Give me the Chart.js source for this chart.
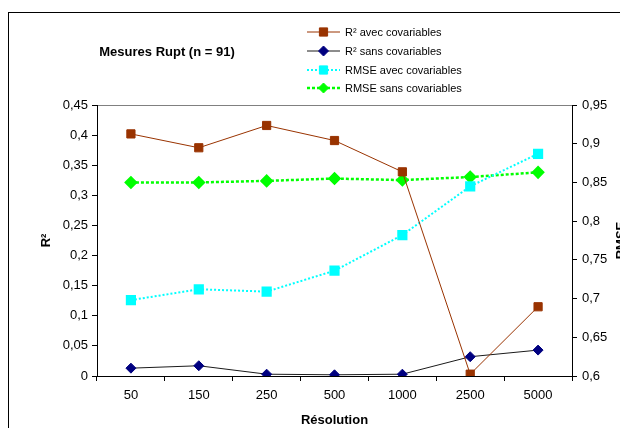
<!DOCTYPE html>
<html>
<head>
<meta charset="utf-8">
<script src="https://cdn.jsdelivr.net/npm/chart.js@4.4.1/dist/chart.umd.min.js"></script>
<style>
  html, body { margin: 0; padding: 0; background: #fff; overflow: hidden; width: 620px; height: 428px; }
  #frame { position: absolute; left: 8px; top: 12px; width: 800px; height: 600px;
           border-left: 1px solid #000; border-top: 1px solid #000; }
  #myChart { position: absolute; left: 0; top: 0; }
</style>
</head>
<body>
<div id="frame"></div>
<canvas id="myChart" width="640" height="440"></canvas>
<script>
// Résolutions (catégories de l'axe X)
var resolutions = ['50', '150', '250', '500', '1000', '2500', '5000'];

// R² (axe gauche)
var r2Avec = [0.402, 0.379, 0.416, 0.391, 0.339, 0.003, 0.115];
var r2Sans = [0.013, 0.017, 0.003, 0.002, 0.003, 0.032, 0.043];

// RMSE (axe droit)
var rmseAvec = [0.698, 0.712, 0.709, 0.736, 0.782, 0.845, 0.887];
var rmseSans = [0.850, 0.850, 0.852, 0.855, 0.853, 0.857, 0.863];

var titre = 'Mesures Rupt (n = 91)';
var FONT = 'Arial, "Liberation Sans", sans-serif';

function virgule(v) {
    return String(+v.toFixed(2)).replace('.', ',');
}

// titre, légende verticale et titre de l'axe droit (tourné comme à gauche)
var decor = {
    id: 'decor',
    afterDraw: function (chart) {
        var ctx = chart.ctx;
        ctx.save();
        ctx.fillStyle = '#000';
        ctx.font = 'bold 13px ' + FONT;
        ctx.textAlign = 'center';
        ctx.textBaseline = 'middle';
        ctx.fillText(titre, 167, 52);

        var rows = [32, 51, 70, 88];
        chart.data.datasets.forEach(function (ds, i) {
            var y = rows[i];
            ctx.save();
            ctx.strokeStyle = ds.borderColor;
            ctx.lineWidth = ds.borderWidth;
            ctx.setLineDash(ds.borderDash || []);
            ctx.beginPath();
            ctx.moveTo(307, y);
            ctx.lineTo(340, y);
            ctx.stroke();
            ctx.restore();
            ctx.fillStyle = ds.pointBackgroundColor;
            ctx.strokeStyle = ds.pointBorderColor;
            ctx.lineWidth = 1;
            Chart.helpers.drawPoint(ctx, {pointStyle: ds.pointStyle, radius: ds.pointRadius, borderWidth: 1, rotation: 0}, 323.5, y);
            ctx.fillStyle = '#000';
            ctx.font = '11px ' + FONT;
            ctx.textAlign = 'left';
            ctx.textBaseline = 'middle';
            ctx.fillText(ds.label, 345, y + 1);
        });

        var a = chart.chartArea;
        ctx.translate(621, (a.top + a.bottom) / 2);
        ctx.rotate(-Math.PI / 2);
        ctx.font = 'bold 13px ' + FONT;
        ctx.textAlign = 'center';
        ctx.textBaseline = 'middle';
        ctx.fillStyle = '#000';
        ctx.fillText('RMSE', 0, 0);
        ctx.restore();
    }
};

var ctx = document.getElementById('myChart').getContext('2d');
var chart = new Chart(ctx, {
    type: 'line',
    data: {
        labels: resolutions,
        datasets: [
            {
                label: 'R² avec covariables',
                data: r2Avec,
                yAxisID: 'y',
                borderColor: '#993300',
                borderWidth: 1,
                pointStyle: 'rect',
                pointRadius: 5.8,
                pointBackgroundColor: '#993300',
                pointBorderColor: '#993300'
            },
            {
                label: 'R² sans covariables',
                data: r2Sans,
                yAxisID: 'y',
                borderColor: '#1a1a1a',
                borderWidth: 1,
                pointStyle: 'rectRot',
                pointRadius: 5,
                pointBackgroundColor: '#000080',
                pointBorderColor: '#000080'
            },
            {
                label: 'RMSE avec covariables',
                data: rmseAvec,
                yAxisID: 'y1',
                borderColor: '#00FFFF',
                borderWidth: 2,
                borderDash: [2, 2],
                pointStyle: 'rect',
                pointRadius: 5.8,
                pointBackgroundColor: '#00FFFF',
                pointBorderColor: '#00FFFF'
            },
            {
                label: 'RMSE sans covariables',
                data: rmseSans,
                yAxisID: 'y1',
                borderColor: '#00FF00',
                borderWidth: 2.5,
                borderDash: [3, 2],
                pointStyle: 'rectRot',
                pointRadius: 5,
                pointBackgroundColor: '#00FF00',
                pointBorderColor: '#00FF00'
            }
        ]
    },
    options: {
        responsive: false,
        animation: false,
        layout: { padding: { top: 105, left: 0, right: 0, bottom: 0 } },
        elements: { line: { tension: 0 } },
        plugins: {
            legend: { display: false },
            title: { display: false },
            tooltip: { enabled: false }
        },
        scales: {
            x: {
                offset: true,
                grid: { offset: true, drawOnChartArea: false, tickLength: 5, color: '#000' },
                border: { color: '#000', width: 1 },
                ticks: { color: '#000', font: { family: FONT, size: 13 }, padding: 7, maxRotation: 0 },
                title: { display: true, text: 'Résolution', color: '#000',
                         font: { family: FONT, size: 13, weight: 'bold' }, padding: { top: 0, bottom: 12 } },
                afterFit: function (s) { s.height = 64; }
            },
            y: {
                position: 'left',
                min: 0, max: 0.45,
                ticks: { stepSize: 0.05, color: '#000', font: { family: FONT, size: 13 }, padding: 4,
                         callback: function (v) { return virgule(v); } },
                grid: {
                    tickLength: 5, tickColor: '#000',
                    color: function (c) { return c.tick && Math.abs(c.tick.value - 0.45) < 1e-6 ? '#808080' : 'rgba(0,0,0,0)'; }
                },
                border: { color: '#000', width: 1 },
                title: { display: true, text: 'R²', color: '#000',
                         font: { family: FONT, size: 13, weight: 'bold' }, padding: { top: 39, bottom: 0 } },
                afterFit: function (s) { s.width = 97; }
            },
            y1: {
                position: 'right',
                min: 0.6, max: 0.95,
                ticks: { stepSize: 0.05, color: '#000', font: { family: FONT, size: 13 }, padding: 5,
                         callback: function (v) { return virgule(v); } },
                grid: { drawOnChartArea: false, tickLength: 5, tickColor: '#000' },
                border: { color: '#000', width: 1 },
                afterFit: function (s) { s.width = 68; }
            }
        }
    },
    plugins: [decor]
});
</script>
</body>
</html>
